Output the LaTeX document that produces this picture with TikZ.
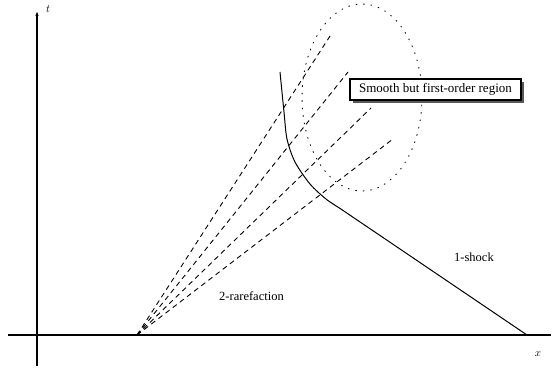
\documentclass[tikz,border=0pt]{standalone}
\usepackage{fontspec}
\setmainfont{Liberation Serif}
\usetikzlibrary{arrows.meta,shadows}
\tikzset{
  axisline/.style={line width=1.1pt},
  fanline/.style={line width=0.9pt, dash pattern=on 5pt off 4pt},
  shockline/.style={line width=1pt},
  dotline/.style={line width=0.9pt, dash pattern=on 0.9pt off 6.6pt, line cap=round},
  lbl/.style={font=\fontsize{12.5}{14}\selectfont, inner sep=0pt},
  boxlbl/.style={draw, line width=1.2pt, fill=white, inner sep=0pt,
    minimum width=171pt, minimum height=21pt,
    font=\fontsize{13}{15}\selectfont,
    drop shadow={shadow xshift=3pt, shadow yshift=-3pt, fill=black!65, opacity=1}},
  axlbl/.style={font=\fontsize{11}{13}\selectfont, inner sep=0pt}
}
\begin{document}
\begin{tikzpicture}[x=1pt,y=-1pt]
\useasboundingbox (0,0) rectangle (552,369);
% axes
\coordinate (xl) at (8,335);
\coordinate (xr) at (551,335);
\coordinate (yb) at (37,366);
\coordinate (yt) at (37,11);
\draw[axisline] (xl) -- (xr);
\draw[axisline,-{Latex[length=5pt,width=3.5pt]}] (yb) -- (yt);
\node[axlbl] (tlab) at (48,9) {$t$};
\node[axlbl] (xlab) at (538,354) {$x$};
% rarefaction fan
\coordinate (O) at (137,335);
\coordinate (e1) at (332,33);
\coordinate (e2) at (348,72);
\coordinate (e3) at (371,108);
\coordinate (e4) at (393,139);
\draw[fanline] (O) -- (e1);
\draw[fanline] (O) -- (e2);
\draw[fanline] (O) -- (e3);
\draw[fanline] (O) -- (e4);
% shock
\coordinate (send) at (527,335);
\draw[shockline] plot[smooth] coordinates {(280,72) (284,112) (287,139) (295,162) (310,184) (326,199) (340,208.4)} -- (send);
% dotted region
\node[draw=none, inner sep=0pt] (reg) at (362,97.5) {};
\draw[dotline] (reg) ellipse [x radius=60, y radius=93.5];
% labels
\node[boxlbl] (box) at (435.5,89.5) {Smooth but first-order region};
\node[lbl] (rare) at (251.5,296) {2-rarefaction};
\node[lbl] (shock) at (474,257) {1-shock};
\end{tikzpicture}
\end{document}
